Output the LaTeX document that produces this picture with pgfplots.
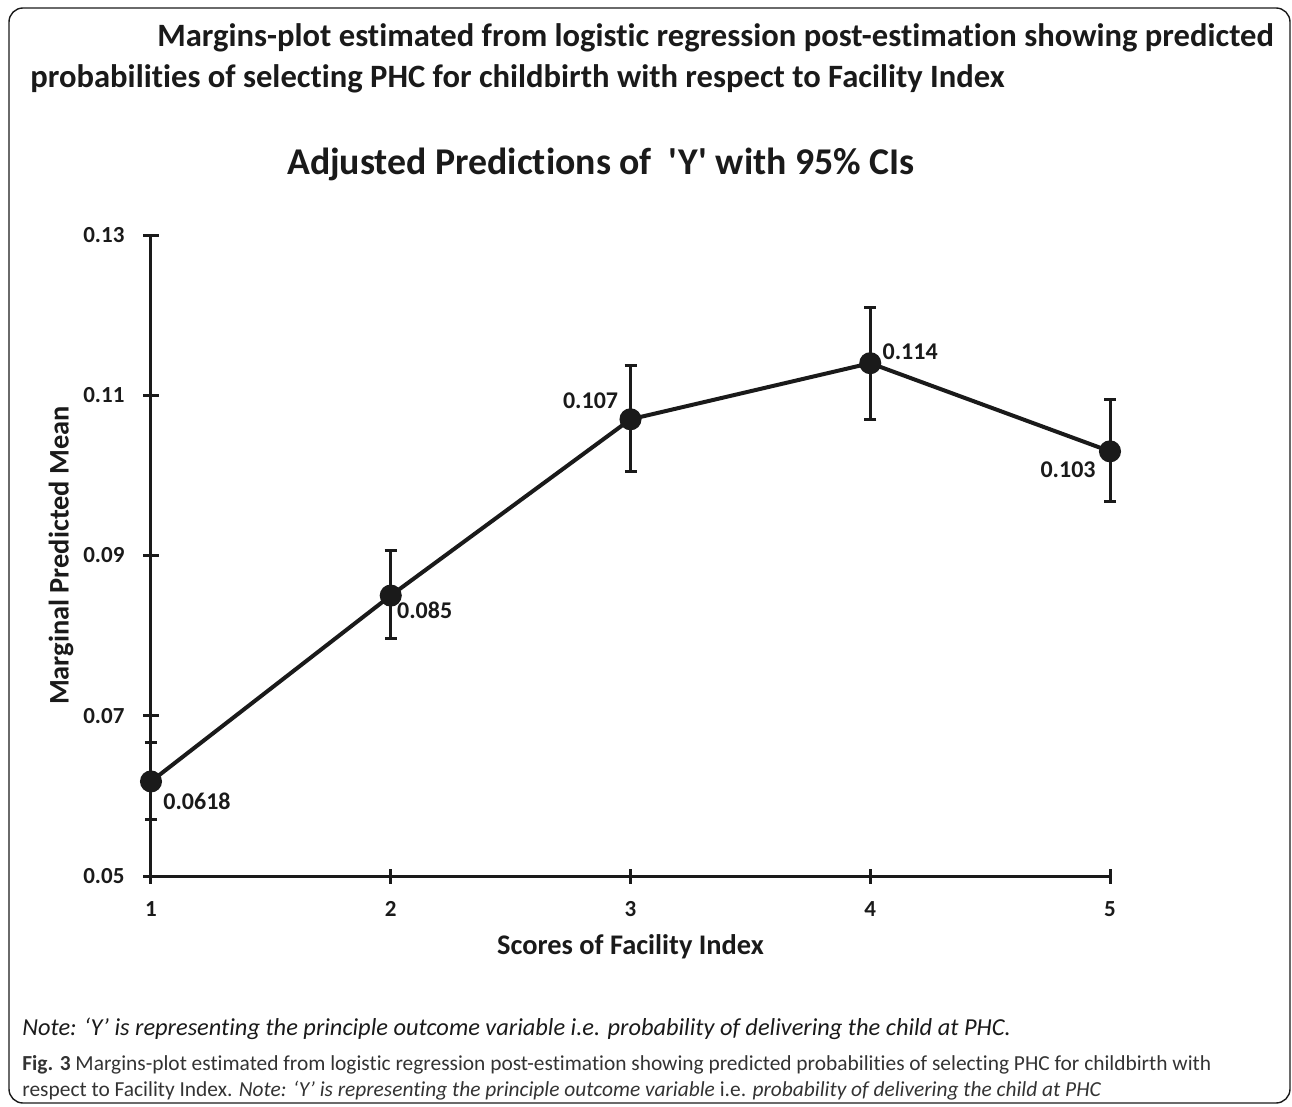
\documentclass[border=0pt]{standalone}
\usepackage{fontspec}
\defaultfontfeatures{Ligatures={TeX,NoCommon}}
\setmainfont{Carlito}
\newfontfamily\plainquote{Carlito}[Ligatures={TeXOff,NoCommon}]
\usepackage{pgfplots}
\pgfplotsset{compat=1.18}
\definecolor{ink}{HTML}{1A1A1A}
\definecolor{capgray}{HTML}{333333}
\begin{document}
\begin{tikzpicture}
\path[use as bounding box] (0,0) rectangle (646pt,-553.5pt);
\draw[line width=0.7pt, ink, rounded corners=7pt] (4.5pt,-4pt) rectangle (645pt,-551.5pt);
\node[anchor=base west, inner sep=0pt, font=\fontsize{16.3}{19}\selectfont\bfseries, text=ink] at (78.5pt,-23.5pt) {Margins-plot estimated from logistic regression post-estimation showing predicted};
\node[anchor=base west, inner sep=0pt, font=\fontsize{16.3}{19}\selectfont\bfseries, text=ink] at (15pt,-44pt) {probabilities of selecting PHC for childbirth with respect to Facility Index};
\node[anchor=base, inner sep=0pt, font=\plainquote\fontsize{18.9}{22}\selectfont\bfseries, text=ink] at (300.5pt,-87.5pt) {Adjusted Predictions of\ \ 'Y' with 95\% CIs};

\begin{axis}[
  at={(75.5pt,-438pt)}, anchor=south west,
  scale only axis, width=479.5pt, height=320.5pt,
  xmin=1, xmax=5, ymin=0.05, ymax=0.13,
  axis x line=bottom, axis y line=left,
  axis line style={-, line width=1.5pt, ink},
  xtick={1,2,3,4,5}, xticklabels={1,2,3,4,5},
  ytick={0.05,0.07,0.09,0.11,0.13}, yticklabels={0.05,0.07,0.09,0.11,0.13},
  tick align=center, major tick length=7.5pt,
  tick style={line width=1.5pt, ink},
  ticklabel style={font=\fontsize{11.5}{13}\selectfont\bfseries, text=ink},
  xticklabel style={yshift=-5.5pt},
  yticklabel style={xshift=-6pt},
  xlabel={Scores of Facility Index}, ylabel={Marginal Predicted Mean},
  xlabel style={at={(axis description cs:0.5,0)}, anchor=center, yshift=-35.5pt, font=\fontsize{14.2}{16}\selectfont\bfseries, text=ink},
  ylabel style={at={(axis description cs:-0.0938,0.5)}, anchor=center, font=\fontsize{14.2}{16}\selectfont\bfseries, text=ink},
  clip=false,
]
\addplot[ink, line width=2pt, mark=*, mark size=4.5pt, mark options={fill=ink, draw=ink},
  error bars/.cd, y dir=both, y explicit,
  error bar style={line width=1.5pt, ink},
  error mark options={mark size=3pt, line width=1.5pt, ink, rotate=90}]
  table[x=x, y=y, y error plus=ep, y error minus=em] {
x y ep em
1 0.0618 0.0048 0.0048
2 0.085 0.0056 0.0054
3 0.107 0.0067 0.0065
4 0.114 0.0070 0.0070
5 0.103 0.0065 0.0063
};
\node[anchor=north west, inner sep=0pt, font=\fontsize{12}{14}\selectfont\bfseries, text=ink, xshift=6pt, yshift=-5.5pt] at (axis cs:1,0.0618) {0.0618};
\node[anchor=north west, inner sep=0pt, font=\fontsize{12}{14}\selectfont\bfseries, text=ink, xshift=3pt, yshift=-3pt] at (axis cs:2,0.085) {0.085};
\node[anchor=south east, inner sep=0pt, font=\fontsize{12}{14}\selectfont\bfseries, text=ink, xshift=-6pt, yshift=5pt] at (axis cs:3,0.107) {0.107};
\node[anchor=south west, inner sep=0pt, font=\fontsize{12}{14}\selectfont\bfseries, text=ink, xshift=6pt, yshift=1.5pt] at (axis cs:4,0.114) {0.114};
\node[anchor=north east, inner sep=0pt, font=\fontsize{12}{14}\selectfont\bfseries, text=ink, xshift=-7pt, yshift=-5pt] at (axis cs:5,0.103) {0.103};
\end{axis}

\node[anchor=base west, inner sep=0pt, font=\fontsize{12.2}{14}\selectfont\itshape, text=ink] at (11pt,-517.5pt) {Note: ‘Y’ is representing the principle outcome variable i.e. probability of delivering the child at PHC.};
\node[anchor=base west, inner sep=0pt, font=\fontsize{10.7}{12}\selectfont, text=capgray] at (11pt,-535pt) {\textbf{Fig. 3} Margins-plot estimated from logistic regression post-estimation showing predicted probabilities of selecting PHC for childbirth with};
\node[anchor=base west, inner sep=0pt, font=\fontsize{10.7}{12}\selectfont, text=capgray] at (11pt,-548pt) {respect to Facility Index. \textit{Note: ‘Y’ is representing the principle outcome variable} i.e. \textit{probability of delivering the child at PHC}};
\end{tikzpicture}
\end{document}
